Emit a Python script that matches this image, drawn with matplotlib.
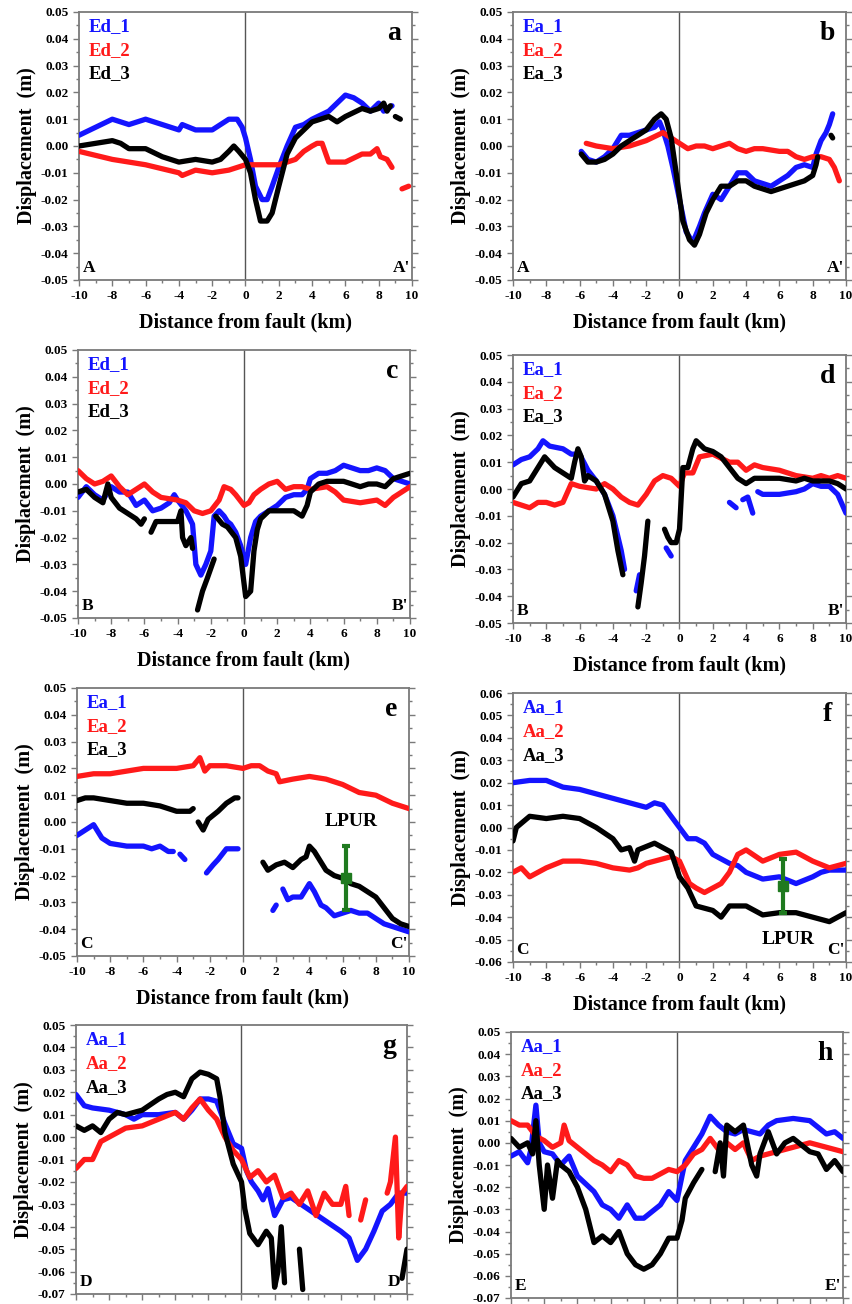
import numpy as np
import matplotlib
matplotlib.use("Agg")
import matplotlib.pyplot as plt
from matplotlib.ticker import MultipleLocator, FuncFormatter

plt.rcParams["font.family"] = ["Liberation Serif", "DejaVu Serif"]
plt.rcParams["font.weight"] = "bold"
plt.rcParams["axes.unicode_minus"] = False

# profile data: (distance km, displacement m); None marks a gap
a_blue = [(-10, .004), (-9, .007), (-8, .010), (-7, .008), (-6, .010), (-5, .008), (-4, .006),
          (-3.8, .008), (-3, .006), (-2, .006), (-1.5, .008), (-1, .010), (-0.5, .010), (-0.2, .007),
          (0, .003), (0.3, -.005), (0.6, -.015), (1.0, -.020), (1.3, -.020), (1.6, -.015), (2, -.008),
          (2.5, 0), (3, .007), (3.5, .008), (4, .010), (5, .013), (6, .019), (6.5, .018), (7, .016),
          (7.5, .013), (8, .016), (8.3, .013), (8.8, .015)]
a_red = [(-10, -.002), (-8, -.005), (-6, -.007), (-4, -.010), (-3.8, -.011), (-3, -.009), (-2, -.010),
         (-1, -.009), (0, -.007), (1, -.007), (2, -.007), (2.5, -.006), (3, -.005), (3.5, -.002),
         (4, 0), (4.3, .001), (4.6, .001), (5, -.006), (6, -.006), (7, -.003), (7.5, -.003),
         (7.9, -.001), (8.1, -.004), (8.5, -.005), (8.8, -.008), None, (9.4, -.016), (9.8, -.015)]
a_black = [(-10, 0), (-9, .001), (-8, .002), (-7.5, .001), (-7, -.001), (-6, -.001), (-5, -.004),
           (-4, -.006), (-3, -.005), (-2, -.006), (-1.5, -.005), (-1, -.002), (-0.7, 0), (-0.4, -.002),
           (0, -.005), (0.3, -.010), (0.6, -.020), (0.9, -.028), (1.3, -.028), (1.6, -.025), (2, -.015),
           (2.5, -.003), (3, .003), (3.5, .006), (4, .009), (4.5, .010), (5, .011), (5.5, .009),
           (6, .011), (7, .014), (7.5, .013), (8, .014), (8.3, .016), (8.5, .013), (8.7, .015),
           None, (9.0, .011), (9.3, .010)]

b_blue = [(-5.9, -.002), (-5.5, -.005), (-5, -.006), (-4.5, -.004), (-4, -.001), (-3.5, .004),
          (-3, .004), (-2.5, .005), (-2, .006), (-1.5, .007), (-1.2, .009), (-1, .006), (-0.7, 0),
          (-0.4, -.008), (0, -.020), (0.4, -.032), (0.8, -.036), (1.2, -.030), (1.5, -.025),
          (2, -.018), (2.5, -.020), (3, -.015), (3.5, -.010), (4, -.010), (4.5, -.013), (5, -.014),
          (5.5, -.015), (6, -.013), (6.5, -.011), (7, -.008), (7.5, -.007), (8, -.008), (8.2, -.003),
          (8.5, .002), (8.8, .005), (9.0, .008), (9.2, .012)]
b_red = [(-5.6, .001), (-5, 0), (-4, -.001), (-3, 0), (-2, .002), (-1, .005), (-0.5, .003), (0, .001),
         (0.5, -.001), (1, 0), (1.5, 0), (2, -.001), (3, .001), (3.5, -.001), (4, -.002),
         (4.5, -.001), (5, -.001), (6, -.002), (6.5, -.002), (7, -.004), (7.5, -.005), (8, -.004),
         (8.5, -.004), (9, -.005), (9.3, -.008), (9.6, -.013)]
b_black = [(-5.9, -.003), (-5.5, -.006), (-5, -.006), (-4.5, -.005), (-4, -.003), (-3.5, 0),
           (-3, .002), (-2.5, .004), (-2, .006), (-1.5, .010), (-1.1, .012), (-0.8, .010),
           (-0.5, .003), (-0.2, -.010), (0.2, -.028), (0.6, -.035), (0.9, -.037), (1.2, -.033),
           (1.6, -.025), (2, -.020), (2.5, -.015), (3, -.015), (3.5, -.013), (4, -.013),
           (4.5, -.015), (5, -.016), (5.5, -.017), (6, -.016), (7, -.014), (7.5, -.013),
           (8, -.011), (8.2, -.007), (8.3, -.004), None, (9.1, .004), (9.2, .003)]

c_blue = [(-10, -.005), (-9.5, -.001), (-9, -.004), (-8.5, -.006), (-8, -.001), (-7.5, -.003),
          (-7, -.003), (-6.5, -.008), (-6, -.006), (-5.5, -.010), (-5, -.009), (-4.5, -.007),
          (-4.2, -.004), (-4, -.006), (-3.5, -.010), (-3.1, -.015), (-2.9, -.030), (-2.6, -.034),
          (-2.3, -.030), (-2, -.025), (-1.8, -.012), (-1.5, -.010), (-1.2, -.012), (-1, -.014),
          (-0.8, -.015), (-0.5, -.018), (-0.2, -.023), (0.1, -.030), (0.4, -.020), (0.7, -.014),
          (1, -.012), (1.5, -.010), (2, -.008), (2.5, -.005), (3, -.004), (3.5, -.004),
          (3.8, -.002), (4, .002), (4.5, .004), (5, .004), (5.5, .005), (6, .007), (6.5, .006),
          (7, .005), (7.5, .005), (8, .006), (8.5, .005), (9, .002), (9.5, .001), (10, 0)]
c_red = [(-10, .005), (-9.5, .002), (-9, 0), (-8.5, .001), (-8, .003), (-7.5, -.001), (-7, -.004),
         (-6.5, -.002), (-6, 0), (-5.5, -.003), (-5, -.005), (-4, -.006), (-3.5, -.007),
         (-3, -.010), (-2.5, -.011), (-2, -.010), (-1.5, -.006), (-1.2, -.001), (-0.8, -.002),
         (-0.5, -.004), (0, -.008), (0.3, -.007), (0.6, -.004), (1, -.002), (1.5, 0), (2, .001),
         (2.5, -.002), (3, -.001), (3.5, -.001), (4, -.002), (5, -.001), (5.5, -.003), (6, -.006),
         (7, -.007), (8, -.006), (8.5, -.008), (9, -.005), (10, -.001)]
c_black = [(-10, -.003), (-9.5, -.002), (-9, -.005), (-8.5, -.007), (-8.2, 0), (-8, -.005),
           (-7.5, -.009), (-7, -.011), (-6.5, -.013), (-6.2, -.015), (-6, -.013), None,
           (-5.6, -.018), (-5.3, -.014), (-5, -.014), (-4.5, -.014), (-4, -.014), (-3.8, -.010),
           (-3.7, -.020), (-3.5, -.023), (-3.2, -.020), (-3.1, -.024), None, (-2.8, -.047),
           (-2.5, -.040), (-2.2, -.035), (-1.8, -.028), None, (-1.7, -.012), (-1.3, -.015),
           (-1, -.016), (-0.5, -.020), (-0.2, -.027), (0.1, -.042), (0.4, -.040), (0.6, -.025),
           (0.8, -.017), (1, -.013), (1.5, -.010), (2, -.010), (2.5, -.010), (3, -.010),
           (3.5, -.012), (3.8, -.008), (4, -.003), (4.5, 0), (5, .001), (6, .001), (7, -.001),
           (7.5, 0), (8, 0), (8.5, -.001), (9, .002), (9.5, .003), (10, .004)]

d_blue = [(-10, .009), (-9.5, .011), (-9, .012), (-8.5, .015), (-8.2, .018), (-7.8, .016),
          (-7, .015), (-6.5, .013), (-6, .013), (-5.5, .007), (-5, .003), (-4.5, -.002),
          (-4, -.010), (-3.5, -.023), (-3.3, -.030), None, (-2.6, -.038), (-2.4, -.032), None,
          (-0.8, -.022), (-0.5, -.025), None, (3.0, -.005), (3.4, -.007), None, (3.8, -.004),
          (4.1, -.003), (4.4, -.009), None, (4.7, -.001), (5, -.002), (6, -.002), (7, -.001),
          (7.5, 0), (8, .002), (8.5, .001), (9, .001), (9.5, -.002), (10, -.009)]
d_red = [(-10, -.005), (-9, -.007), (-8.5, -.005), (-8, -.005), (-7.5, -.006), (-7, -.005),
         (-6.5, .002), (-6, .001), (-5, 0), (-4.5, .002), (-4, 0), (-3.5, -.003), (-3, -.005),
         (-2.5, -.006), (-2, -.002), (-1.5, .003), (-1, .005), (-0.5, .004), (0, .001),
         (0.3, .006), (0.8, .006), (1.2, .012), (2, .013), (3, .010), (3.5, .010), (4, .007),
         (4.5, .009), (5, .008), (6, .007), (7, .005), (8, .004), (8.5, .005), (9, .004),
         (9.5, .005), (10, .004)]
d_black = [(-10, -.003), (-9.5, .002), (-9, .003), (-8.5, .008), (-8.1, .012), (-7.5, .008),
           (-7, .006), (-6.5, .004), (-6.3, .010), (-6.1, .015), (-5.9, .012), (-5.7, .003),
           (-5.5, .005), (-5, .003), (-4.5, -.002), (-4, -.012), (-3.7, -.023), (-3.4, -.032),
           None, (-2.5, -.044), (-2.3, -.035), (-2.1, -.025), (-1.9, -.012), None, (-0.9, -.015),
           (-0.7, -.018), (-0.5, -.020), (-0.2, -.020), (0, -.015), (0.2, .008), (0.5, .008),
           (0.8, .015), (1, .018), (1.5, .015), (2, .014), (2.5, .012), (3, .008), (3.5, .004),
           (4, .002), (4.5, .004), (5, .004), (6, .004), (7, .003), (7.5, .004), (8, .003),
           (9, .003), (9.5, .002), (10, 0)]

e_blue = [(-10, -.005), (-9.5, -.003), (-9, -.001), (-8.5, -.006), (-8, -.008), (-7, -.009),
          (-6, -.009), (-5.5, -.010), (-5, -.009), (-4.5, -.011), (-4.2, -.011), None,
          (-3.8, -.012), (-3.5, -.014), None, (-2.2, -.019), (-1.8, -.016), (-1.5, -.014),
          (-1, -.010), (-0.5, -.010), (-0.3, -.010), None, (1.8, -.033), (2.0, -.031), None,
          (2.4, -.025), (2.7, -.029), (3, -.028), (3.5, -.028), (4, -.023), (4.3, -.026),
          (4.7, -.031), (5, -.032), (5.5, -.035), (6, -.034), (6.5, -.033), (7, -.034),
          (7.5, -.034), (8, -.036), (8.5, -.038), (9, -.039), (9.5, -.040), (10, -.041)]
e_red = [(-10, .017), (-9, .018), (-8, .018), (-7, .019), (-6, .020), (-5, .020), (-4, .020),
         (-3, .021), (-2.6, .024), (-2.3, .019), (-2, .021), (-1, .021), (0, .020), (0.5, .021),
         (1, .021), (1.5, .019), (2, .018), (2.2, .015), (3, .016), (4, .017), (5, .016),
         (6, .014), (7, .011), (8, .010), (9, .007), (10, .005)]
e_black = [(-10, .008), (-9.5, .009), (-9, .009), (-8, .008), (-7, .007), (-6, .007), (-5, .006),
           (-4, .004), (-3.5, .004), (-3.2, .004), (-3, .005), None, (-2.7, 0), (-2.4, -.003),
           (-2.1, .001), (-1.5, .004), (-1, .007), (-0.5, .009), (-0.3, .009), None,
           (1.2, -.015), (1.5, -.018), (2, -.016), (2.5, -.015), (3, -.017), (3.5, -.014),
           (3.8, -.013), (4, -.009), (4.3, -.011), (4.7, -.015), (5, -.018), (5.5, -.020),
           (6, -.021), (6.5, -.023), (7, -.024), (7.5, -.026), (8, -.028), (8.5, -.032),
           (9, -.036), (9.5, -.038), (10, -.039)]

f_blue = [(-10, .020), (-9, .021), (-8, .021), (-7, .018), (-6, .017), (-5, .015), (-4, .013),
          (-3, .011), (-2, .009), (-1.5, .011), (-1, .010), (-0.5, .005), (0, 0), (0.5, -.005),
          (1, -.005), (1.5, -.007), (2, -.012), (3, -.016), (3.5, -.017), (4, -.020), (5, -.023),
          (6, -.022), (7, -.025), (8, -.022), (8.5, -.020), (9, -.019), (10, -.019)]
f_red = [(-10, -.020), (-9.5, -.018), (-9, -.022), (-8, -.018), (-7, -.015), (-6, -.015),
         (-5, -.016), (-4, -.018), (-3, -.019), (-2.5, -.018), (-2, -.016), (-1, -.014),
         (-0.5, -.013), (0, -.015), (0.3, -.020), (0.6, -.025), (1, -.027), (1.5, -.029),
         (2, -.027), (2.5, -.025), (3, -.020), (3.5, -.012), (4, -.010), (5, -.015), (6, -.012),
         (7, -.011), (8, -.015), (9, -.018), (10, -.016)]
f_black = [(-10, -.006), (-9.8, 0), (-9, .005), (-8, .004), (-7, .005), (-6, .004), (-5, 0),
           (-4, -.005), (-3.5, -.010), (-3, -.009), (-2.7, -.015), (-2.5, -.010), (-1.5, -.007),
           (-1, -.009), (-0.5, -.011), (0, -.022), (0.5, -.027), (1, -.035), (2, -.037),
           (2.5, -.040), (3, -.035), (4, -.035), (5, -.039), (6, -.038), (7, -.038), (8, -.040),
           (9, -.042), (10, -.038)]

g_blue = [(-10, .019), (-9.5, .014), (-9, .013), (-8, .012), (-7, .010), (-6.5, .008), (-6, .010),
          (-5, .010), (-4, .011), (-3.5, .008), (-3, .012), (-2.5, .017), (-2, .017), (-1.5, .016),
          (-1, .006), (-0.5, -.003), (0, -.005), (0.3, -.015), (0.6, -.020), (1, -.024),
          (1.3, -.028), (1.6, -.023), (2, -.035), (2.5, -.028), (3, -.027), (4, -.032),
          (5, -.037), (6, -.042), (6.5, -.045), (7, -.055), (7.5, -.050), (8, -.042),
          (8.5, -.033), (9, -.030), (9.5, -.025), (10, -.025)]
g_red = [(-10, -.014), (-9.5, -.010), (-9, -.010), (-8.5, -.002), (-8, 0), (-7, .004), (-6, .005),
         (-5, .008), (-4, .011), (-3.5, .008), (-3, .013), (-2.5, .017), (-2, .012), (-1.5, .008),
         (-1, 0), (-0.5, -.006), (0, -.010), (0.5, -.018), (1, -.015), (1.5, -.020), (2, -.017),
         (2.5, -.027), (3, -.025), (3.5, -.030), (4, -.024), (4.5, -.035), (5, -.025),
         (5.5, -.030), (6, -.030), (6.3, -.022), (6.5, -.035), None, (7.2, -.037), (7.5, -.028),
         None, (8.8, -.025), (9, -.020), (9.3, 0), (9.5, -.045), (9.7, -.025), (10, -.022)]
g_black = [(-10, .005), (-9.5, .003), (-9, .005), (-8.5, .002), (-8, .008), (-7.5, .011),
           (-7, .010), (-6, .012), (-5, .017), (-4.5, .019), (-4, .020), (-3.5, .018), (-3, .026),
           (-2.5, .029), (-2, .028), (-1.5, .026), (-1.3, .018), (-1, .002), (-0.5, -.012),
           (0, -.020), (0.2, -.032), (0.5, -.043), (1, -.048), (1.5, -.042), (1.8, -.045),
           (2, -.067), (2.2, -.060), (2.4, -.040), (2.6, -.065), None, (3.5, -.050),
           (3.7, -.068), None, (9.7, -.063), (10, -.050)]

h_blue = [(-10, -.006), (-9.5, -.004), (-9, -.009), (-8.8, -.003), (-8.5, .017), (-8.3, 0),
          (-8, -.004), (-7.5, -.005), (-7, -.010), (-6.5, -.006), (-6, -.015), (-5, -.022),
          (-4.5, -.028), (-4, -.030), (-3.5, -.034), (-3, -.028), (-2.5, -.034), (-2, -.034),
          (-1.5, -.031), (-1, -.028), (-0.5, -.022), (0, -.026), (0.3, -.015), (0.5, -.008),
          (1, -.002), (1.5, .004), (2, .012), (2.5, .008), (3, .005), (3.5, .004), (4, .006),
          (5, .004), (5.5, .008), (6, .010), (7, .011), (8, .010), (8.5, .007), (9, .004),
          (9.5, .005), (10, .002)]
h_red = [(-10, .010), (-9.5, .008), (-9, .008), (-8.5, .003), (-8, .001), (-7.5, -.002), (-7, 0),
         (-6.8, .008), (-6.5, .001), (-6, -.002), (-5.5, -.005), (-5, -.008), (-4.5, -.010),
         (-4, -.013), (-3.5, -.008), (-3, -.010), (-2.5, -.015), (-2, -.016), (-1.5, -.016),
         (-1, -.014), (-0.5, -.012), (0, -.013), (0.5, -.010), (1, -.005), (1.5, -.003),
         (2, .002), (2.5, -.003), (3, 0), (3.5, -.003), (4, 0), (4.5, -.008), (5, -.006),
         (6, -.004), (7, -.002), (8, 0), (9, -.002), (10, -.004)]
h_black = [(-10, .002), (-9.5, -.002), (-9, 0), (-8.7, -.005), (-8.5, .010), (-8.3, -.010),
           (-8, -.030), (-7.8, -.010), (-7.5, -.025), (-7.2, -.008), (-7, -.010), (-6.5, -.013),
           (-6, -.020), (-5.5, -.030), (-5, -.045), (-4.5, -.042), (-4, -.045), (-3.5, -.040),
           (-3, -.050), (-2.5, -.055), (-2, -.057), (-1.5, -.055), (-1, -.050), (-0.5, -.043),
           (0, -.043), (0.3, -.035), (0.5, -.025), (1, -.018), (1.5, -.012), None, (2.3, -.013),
           (2.6, 0), (2.8, -.015), (3, .008), (3.5, .005), (4, .008), (4.5, -.010), (4.8, -.015),
           (5, -.005), (5.5, .005), (6, -.005), (6.5, 0), (7, .002), (8, -.004), (8.5, -.005),
           (9, -.012), (9.5, -.008), (10, -.013)]

# LPUR estimates (x, centre, half range)
e_lpur = (6.2, -0.021, 0.012)
f_lpur = (6.2, -0.026, 0.012)

W, H = 853, 1304
BLUE, RED = "#1414ff", "#ff1a1a"


def split(points):
    xs, ys = [], []
    for p in points:
        if p is None:
            xs.append(np.nan)
            ys.append(np.nan)
        else:
            xs.append(p[0])
            ys.append(p[1])
    return np.array(xs), np.array(ys)


def fmt_disp(v, pos):
    return f"{round(v, 3) + 0.0:.2f}".replace("-0.00", "0.00")


panels = [
    # letter, box (l, r, t, b px), ylim, names, data, ends
    ("a", (79, 412, 12, 280), (-0.05, 0.05), ["Ed_1", "Ed_2", "Ed_3"], [a_blue, a_red, a_black], ("A", "A'")),
    ("b", (513, 846, 12, 280), (-0.05, 0.05), ["Ea_1", "Ea_2", "Ea_3"], [b_blue, b_red, b_black], ("A", "A'")),
    ("c", (78, 410, 350, 618), (-0.05, 0.05), ["Ed_1", "Ed_2", "Ed_3"], [c_blue, c_red, c_black], ("B", "B'")),
    ("d", (513, 846, 355, 623), (-0.05, 0.05), ["Ea_1", "Ea_2", "Ea_3"], [d_blue, d_red, d_black], ("B", "B'")),
    ("e", (77, 409, 688, 956), (-0.05, 0.05), ["Ea_1", "Ea_2", "Ea_3"], [e_blue, e_red, e_black], ("C", "C'")),
    ("f", (513, 846, 693, 962), (-0.06, 0.06), ["Aa_1", "Aa_2", "Aa_3"], [f_blue, f_red, f_black], ("C", "C'")),
    ("g", (76, 407, 1025, 1294), (-0.07, 0.05), ["Aa_1", "Aa_2", "Aa_3"], [g_blue, g_red, g_black], ("D", "D'")),
    ("h", (511, 843, 1032, 1298), (-0.07, 0.05), ["Aa_1", "Aa_2", "Aa_3"], [h_blue, h_red, h_black], ("E", "E'")),
]

fig = plt.figure(figsize=(W / 100, H / 100), dpi=100)
spine_c = "#7a7a7a"

for letter, (l, r, t, b), ylim, names, series, ends in panels:
    ax = fig.add_axes([l / W, 1 - b / H, (r - l) / W, (b - t) / H])
    ax.axvline(0, color="#555555", lw=1.0, zorder=1)
    for pts, col in zip(series, [BLUE, RED, "black"]):
        x, y = split(pts)
        ax.plot(x, y, color=col, lw=3.8, solid_capstyle="round", solid_joinstyle="round", zorder=3)
    ax.set_xlim(-10, 10)
    ax.set_ylim(*ylim)
    ax.xaxis.set_major_locator(MultipleLocator(2))
    ax.xaxis.set_minor_locator(MultipleLocator(1))
    ax.yaxis.set_major_locator(MultipleLocator(0.01))
    ax.yaxis.set_minor_locator(MultipleLocator(0.005))
    ax.yaxis.set_major_formatter(FuncFormatter(fmt_disp))
    ax.tick_params(which="both", direction="out", right=True, colors=spine_c,
                   labelcolor="black", labelsize=9.5, width=1.0)
    ax.tick_params(which="major", length=4)
    ax.tick_params(which="minor", length=2)
    for s in ax.spines.values():
        s.set_color(spine_c)
        s.set_linewidth(1.3)
    for lab in ax.get_xticklabels() + ax.get_yticklabels():
        lab.set_fontweight("bold")
    ax.set_ylabel("Displacement  (m)", fontsize=14.5, fontweight="bold", labelpad=3)
    if letter in ("g", "h"):
        # bottom row is cropped below the axes in the source figure
        ax.tick_params(axis="x", labelbottom=False)
    else:
        ax.set_xlabel("Distance from fault (km)", fontsize=14.5, fontweight="bold", labelpad=7)

    for i, (nm, col) in enumerate(zip(names, [BLUE, RED, "black"])):
        ax.text(0.03, 0.945 - i * 0.088, nm, color=col, fontsize=13.5, fontweight="bold",
                transform=ax.transAxes, ha="left", va="center")
    ax.text(0.945, 0.92, letter, fontsize=20, fontweight="bold", transform=ax.transAxes,
            ha="center", va="center")
    ax.text(0.01, 0.045, ends[0], fontsize=12.5, fontweight="bold", transform=ax.transAxes,
            ha="left", va="center")
    ax.text(0.995, 0.045, ends[1], fontsize=12.5, fontweight="bold", transform=ax.transAxes,
            ha="right", va="center")

    if letter in ("e", "f"):
        xc, yc, err = e_lpur if letter == "e" else f_lpur
        ax.errorbar([xc], [yc], yerr=[err], color="#1f7a1f", lw=3, capsize=3, capthick=3,
                    marker="s", ms=7, zorder=4)
        ty = 0.0 if letter == "e" else -0.05
        ax.text(xc + 0.3, ty, "LPUR", fontsize=14, fontweight="bold", ha="center", va="center")

fig.savefig("out.png", dpi=100)
